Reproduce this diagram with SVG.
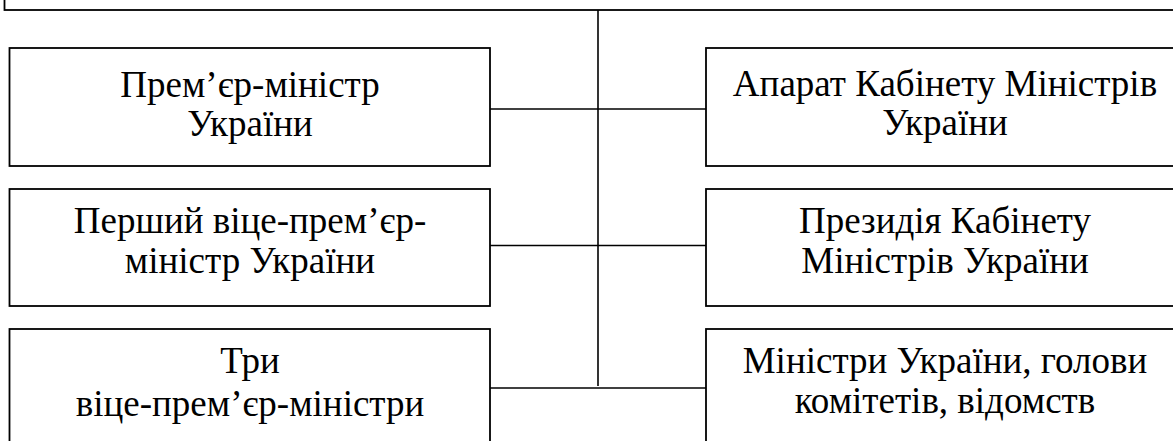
<svg xmlns="http://www.w3.org/2000/svg" width="1173" height="441" viewBox="0 0 1173 441">
<style>
.box{fill:#fff;stroke:#000;stroke-width:1.8}
.ln{stroke:#000;stroke-width:1.6;fill:none}
.t{font-family:'Liberation Serif','Times New Roman',serif;font-size:37px;fill:#000;text-anchor:middle}
</style>
<rect width="1173" height="441" fill="#fff"/>
<g id="connectors">
<line class="ln" x1="598" y1="10" x2="598" y2="386"/>
<line class="ln" x1="490" y1="109" x2="706" y2="109"/>
<line class="ln" x1="490" y1="245.5" x2="706" y2="245.5"/>
<line class="ln" x1="490" y1="388" x2="706" y2="388"/>
</g>
<g id="top">
<rect class="box" x="4.5" y="-60" width="1200" height="70"/>
</g>
<g id="n1">
<rect class="box" x="9.5" y="48" width="480.5" height="118"/>
<text class="t" x="250" y="97">Прем’єр-міністр</text>
<text class="t" x="250" y="136">України</text>
</g>
<g id="n2">
<rect class="box" x="706" y="48" width="480" height="118"/>
<text class="t" x="945" y="96">Апарат Кабінету Міністрів</text>
<text class="t" x="945" y="135">України</text>
</g>
<g id="n3">
<rect class="box" x="9.5" y="189" width="480.5" height="117"/>
<text class="t" x="250" y="233">Перший віце-прем’єр-</text>
<text class="t" x="250" y="273">міністр України</text>
</g>
<g id="n4">
<rect class="box" x="706" y="189" width="480" height="117"/>
<text class="t" x="945" y="233">Президія Кабінету</text>
<text class="t" x="945" y="273">Міністрів України</text>
</g>
<g id="n5">
<rect class="box" x="9.5" y="329" width="480.5" height="140"/>
<text class="t" x="250" y="373">Три</text>
<text class="t" x="250" y="416">віце-прем’єр-міністри</text>
</g>
<g id="n6">
<rect class="box" x="706" y="329" width="480" height="140"/>
<text class="t" x="945" y="373">Міністри України, голови</text>
<text class="t" x="945" y="413">комітетів, відомств</text>
</g>
</svg>
